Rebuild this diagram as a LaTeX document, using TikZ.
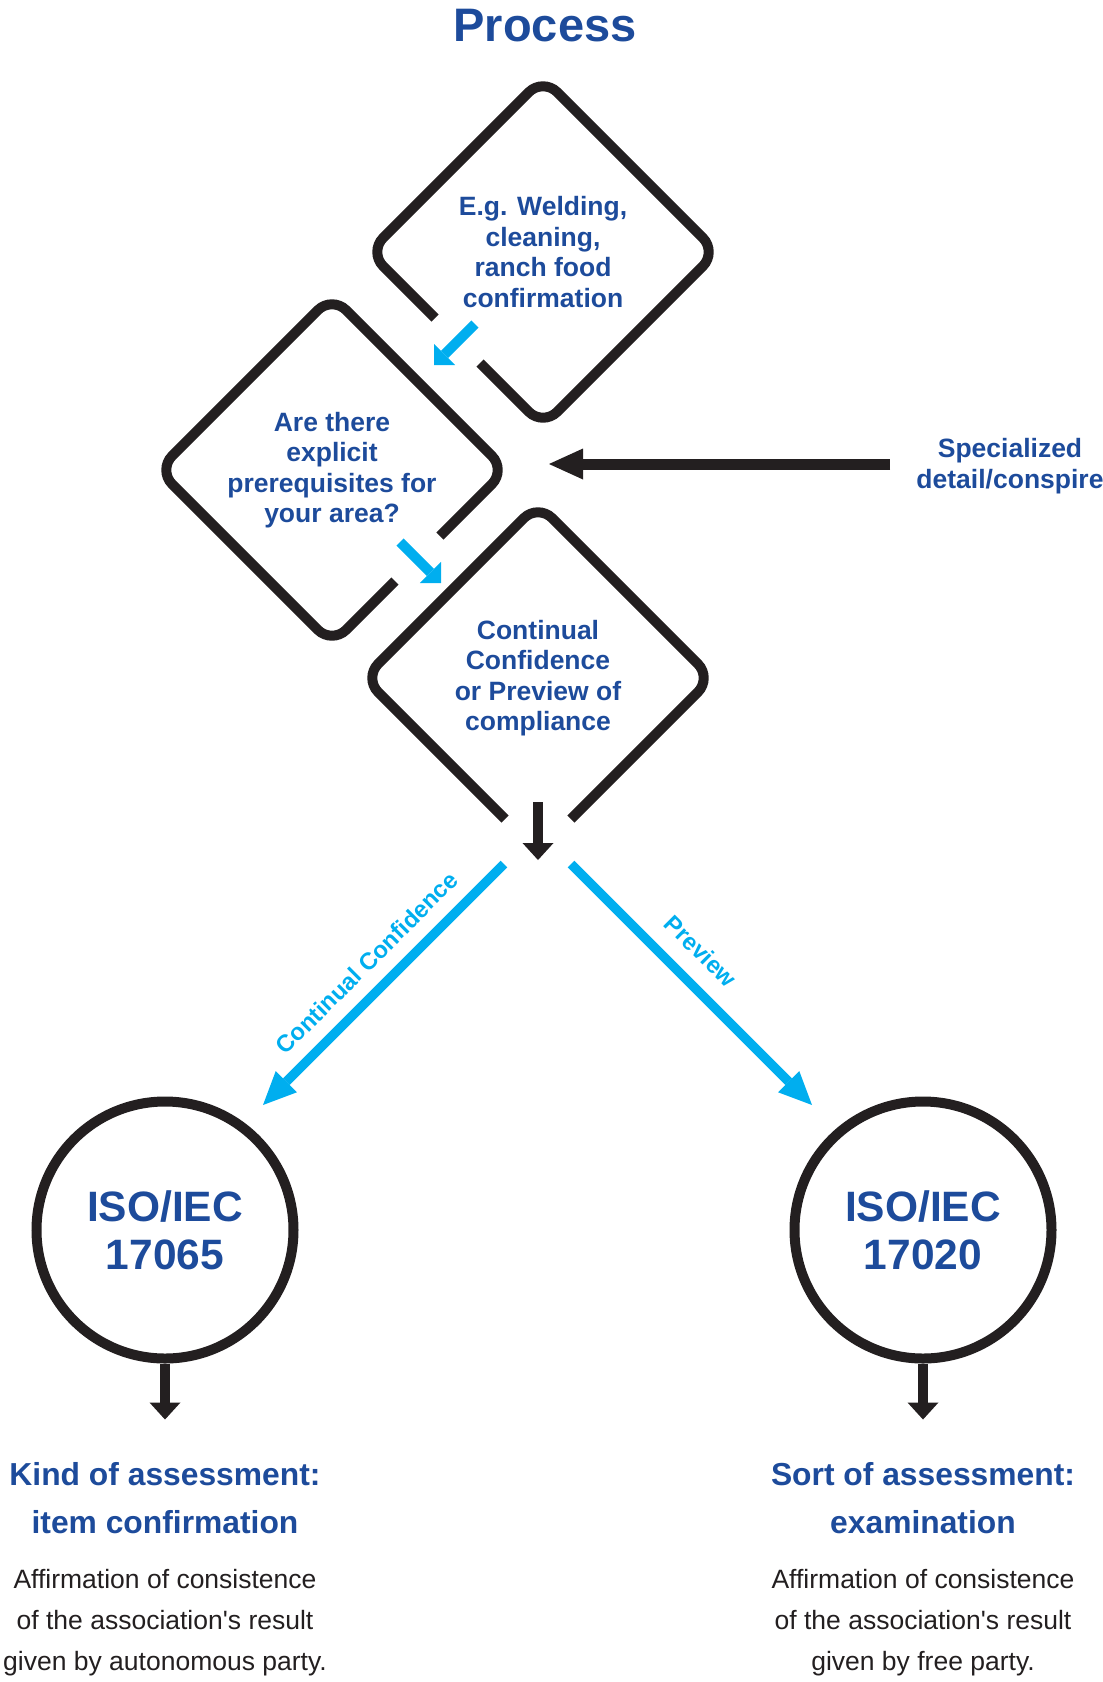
\documentclass[tikz,border=0pt]{standalone}
\usepackage{fontspec}
\setmainfont{Liberation Sans}
\usepackage{tikz}
\usetikzlibrary{calc,arrows.meta}

\definecolor{procblue}{HTML}{1D4B9B}
\definecolor{flowcyan}{HTML}{00AEEF}
\definecolor{ink}{HTML}{231F20}

\begin{document}
\begin{tikzpicture}[x=0.5pt, y=-0.5pt,
    main node/.style={align=center, text=procblue, font=\bfseries\fontsize{13.25}{15.25}\selectfont},
    frame/.style={draw=ink, line width=5pt, rounded corners=10pt},
    iso node/.style={circle, draw=ink, line width=5pt, minimum size=128.5pt, inner sep=0pt,
                     align=center, text=procblue, font=\bfseries\fontsize{21.25}{24}\selectfont},
    head node/.style={align=center, text=procblue, font=\bfseries\fontsize{15.9}{24}\selectfont},
    note node/.style={align=center, text=ink, font=\fontsize{13.25}{20.5}\selectfont},
    cyan step/.style={draw=flowcyan, line width=5pt, -{Triangle[length=7.5pt, width=15pt, line width=0pt]}},
    cyan long/.style={draw=flowcyan, line width=4.75pt, -{Triangle[length=16.5pt, width=15pt, line width=0pt]}},
    black down/.style={draw=ink, line width=5.25pt, -{Triangle[length=8.5pt, width=15.5pt, line width=0pt]}},
    black side/.style={draw=ink, line width=5.5pt, -{Triangle[length=17pt, width=15.5pt, line width=0pt]}}]

  \useasboundingbox (0,0) rectangle (1103,1682);

  \node[text=procblue, font=\bfseries\fontsize{23.5}{28}\selectfont] (0) at (545,26) {Process};

  % the three steps
  \node[main node] (1) at (543,252) {E.g. Welding,\\cleaning,\\ranch food\\confirmation};
  \node[main node] (2) at (332,470) {Are there\\explicit\\prerequisites for\\your area?};
  \node[main node] (3) at (538,678) {Continual\\Confidence\\or Preview of\\compliance};
  \node[main node] (4) at (1010,466) {Specialized\\detail/conspire};

  \draw[frame] ($(1)+(-63,111)$) -- ++(63,63) -- ++(174,-174) -- ++(-174,-174) -- ++(-174,174) -- ++(66,66);
  \draw[frame] ($(2)+(63,111)$) -- ++(-63,63) -- ++(-174,-174) -- ++(174,-174) -- ++(174,174) -- ++(-66,66);
  \draw[frame] ($(3)+(-33,141)$) -- ++(-141,-141) -- ++(174,-174) -- ++(174,174) -- ++(-141,141);

  \coordinate (1 out) at ($(1)+(-68,72)$);
  \coordinate (2 in)  at ($(1)+(-109,113)$);
  \coordinate (2 out) at ($(2)+(68,72)$);
  \coordinate (3 in)  at ($(2)+(109,113)$);
  \coordinate (4 out) at (890,464);
  \coordinate (4 in)  at (549,464);
  \coordinate (3 out) at ($(3)+(0,124)$);
  \coordinate (3 tip) at ($(3)+(0,182)$);

  \draw[cyan step] (1 out) -- (2 in);
  \draw[cyan step] (2 out) -- (3 in);
  \draw[black side] (4 out) -- (4 in);
  \draw[black down] (3 out) -- (3 tip);

  % the two standards
  \node[iso node] (5) at (165,1230) {ISO/IEC\\17065};
  \node[iso node] (6) at (923,1230) {ISO/IEC\\17020};

  \coordinate (3 left)  at ($(3)+(-34,186)$);
  \coordinate (3 right) at ($(3)+(33,186)$);
  \coordinate (5 in) at (263,1105);
  \coordinate (6 in) at (812,1105);

  \path[every node/.style={sloped, text=flowcyan, font=\bfseries\fontsize{11.9}{14}\selectfont}]
    (3 left)  edge[cyan long] node[pos=0.49, above=3.5pt] {Continual Confidence} (5 in)
    (3 right) edge[cyan long] node[pos=0.45, above=5pt] {Preview} (6 in);

  \coordinate (5 tip) at ($(5.south)+(0,56)$);
  \coordinate (6 tip) at ($(6.south)+(0,56)$);
  \draw[black down] (5.south) -- (5 tip);
  \draw[black down] (6.south) -- (6 tip);

  \node[head node] (7) at (165,1498) {Kind of assessment:\\item confirmation};
  \node[note node] (8) at (165,1623) {Affirmation of consistence\\of the association\textquotesingle s result\\given by autonomous party.};
  \node[head node] (9) at (923,1498) {Sort of assessment:\\examination};
  \node[note node] (10) at (923,1623) {Affirmation of consistence\\of the association\textquotesingle s result\\given by free party.};
\end{tikzpicture}
\end{document}
